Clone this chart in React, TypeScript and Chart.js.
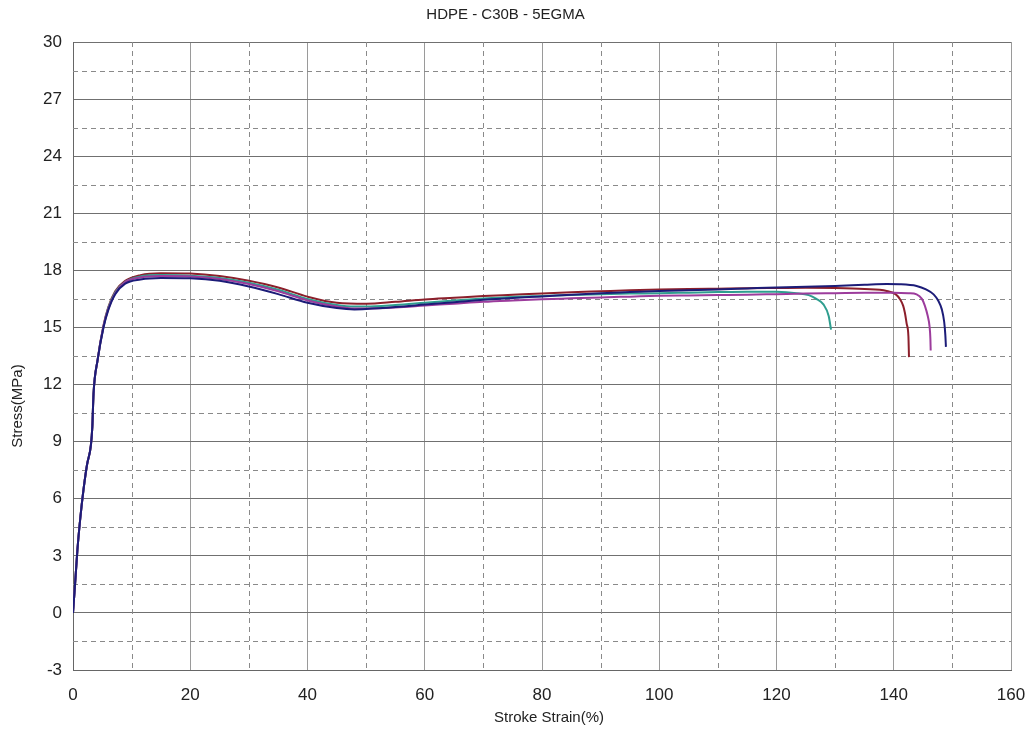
import React, { useEffect, useRef } from "react";
import { Chart, registerables } from "chart.js";

Chart.register(...registerables);

const chartTitle = "HDPE - C30B - 5EGMA";
const xTitle = "Stroke Strain(%)";
const yTitle = "Stress(MPa)";

const xTicks = [0, 20, 40, 60, 80, 100, 120, 140, 160];
const yTicks = [-3, 0, 3, 6, 9, 12, 15, 18, 21, 24, 27, 30];

// Specimen curves: strain (%) and stress (MPa)
const maroonStrain = [0, 0.35, 0.75, 1.25, 1.8, 2.4, 3.05, 3.3, 3.5, 4.2, 5.2, 6.0, 7.2, 8.9, 11.5, 15, 20, 25, 30, 35, 40, 45, 50, 55, 60, 65, 70, 75, 80, 85, 90, 95, 100, 105, 110, 115, 120, 125, 130, 135, 138.8, 140.3, 141.1, 141.6, 141.9, 142.2, 142.5, 142.6];
const maroonStress = [0, 1.5, 3.3, 5.0, 6.5, 7.8, 8.8, 9.8, 11.5, 13.3, 15.1, 16.05, 16.9, 17.45, 17.75, 17.85, 17.83, 17.7, 17.45, 17.1, 16.62, 16.3, 16.25, 16.35, 16.47, 16.56, 16.65, 16.72, 16.79, 16.85, 16.9, 16.95, 16.99, 17.02, 17.04, 17.06, 17.07, 17.08, 17.07, 17.02, 16.92, 16.75, 16.47, 16.15, 15.77, 15.2, 14.54, 13.44];

const navyStrain = [0, 0.35, 0.75, 1.25, 1.8, 2.4, 3.05, 3.3, 3.5, 4.2, 5.2, 6.0, 7.2, 8.9, 11.5, 15, 20, 25, 30, 35, 40, 45, 48, 50, 55, 60, 65, 70, 75, 80, 85, 90, 95, 100, 105, 110, 115, 120, 125, 130, 135, 138.8, 141, 143.9, 145.5, 146.8, 147.6, 148.2, 148.6, 148.8, 148.9];
const navyStress = [0, 1.5, 3.3, 5.0, 6.5, 7.8, 8.8, 9.8, 11.5, 13.3, 15.0, 15.9, 16.75, 17.3, 17.52, 17.6, 17.58, 17.45, 17.15, 16.75, 16.3, 16.02, 15.95, 15.97, 16.07, 16.2, 16.33, 16.45, 16.55, 16.63, 16.72, 16.8, 16.86, 16.92, 16.96, 17.0, 17.05, 17.1, 17.14, 17.18, 17.24, 17.28, 17.27, 17.18, 17.0, 16.74, 16.4, 15.95, 15.3, 14.6, 13.98];

const magentaStrain = [0, 0.35, 0.75, 1.25, 1.8, 2.4, 3.05, 3.3, 3.5, 4.2, 5.2, 6.0, 7.2, 8.9, 11.5, 15, 20, 25, 30, 35, 40, 45, 48, 50, 55, 60, 65, 70, 75, 80, 85, 90, 95, 100, 105, 110, 115, 120, 125, 130, 135, 140, 142.5, 143.9, 144.8, 145.3, 145.8, 146.1, 146.25, 146.3];
const magentaStress = [0, 1.5, 3.3, 5.0, 6.5, 7.8, 8.8, 9.8, 11.5, 13.3, 15.05, 15.95, 16.8, 17.38, 17.62, 17.7, 17.68, 17.55, 17.28, 16.9, 16.42, 16.1, 16.0, 16.0, 16.05, 16.15, 16.25, 16.35, 16.42, 16.48, 16.53, 16.58, 16.62, 16.66, 16.68, 16.7, 16.72, 16.75, 16.78, 16.8, 16.82, 16.83, 16.8, 16.74, 16.5, 16.15, 15.6, 15.07, 14.4, 13.79];

const tealStrain = [0, 0.35, 0.75, 1.25, 1.8, 2.4, 3.05, 3.3, 3.5, 4.2, 5.2, 6.0, 7.2, 8.9, 11.5, 15, 20, 25, 30, 35, 40, 45, 48, 50, 55, 60, 65, 70, 75, 80, 85, 90, 95, 100, 105, 110, 115, 120, 123.4, 125.5, 126.8, 128, 128.9, 129.3];
const tealStress = [0, 1.5, 3.3, 5.0, 6.5, 7.8, 8.8, 9.8, 11.5, 13.3, 15.05, 16.0, 16.85, 17.4, 17.68, 17.75, 17.72, 17.6, 17.35, 16.98, 16.5, 16.18, 16.1, 16.1, 16.18, 16.3, 16.42, 16.52, 16.6, 16.65, 16.7, 16.75, 16.78, 16.8, 16.83, 16.86, 16.88, 16.87, 16.8, 16.7, 16.5, 16.21, 15.6, 14.89];

const seriesNames = ["Specimen 1", "Specimen 2", "Specimen 3", "Specimen 4"];
const seriesColors = ["#1c1c78", "#8c1f2b", "#9c3c9c", "#2f9e8f"];

const FONT = "'Liberation Sans', Arial, sans-serif";

const toPoints = (xs: number[], ys: number[]) => xs.map((x, i) => ({ x, y: ys[i] }));

const minorGridPlugin = {
  id: "minorGrid",
  beforeDatasetsDraw(chart: any) {
    const { ctx, chartArea, scales } = chart;
    const xs = scales.x;
    const ys = scales.y;
    ctx.save();
    ctx.strokeStyle = "#8a8a8a";
    ctx.lineWidth = 1;
    ctx.setLineDash([5, 4]);
    for (let i = 0; i < xTicks.length - 1; i++) {
      const v = (xTicks[i] + xTicks[i + 1]) / 2;
      const px = Math.round(xs.getPixelForValue(v)) + 0.5;
      ctx.beginPath();
      ctx.moveTo(px, chartArea.top);
      ctx.lineTo(px, chartArea.bottom);
      ctx.stroke();
    }
    for (let i = 0; i < yTicks.length - 1; i++) {
      const v = (yTicks[i] + yTicks[i + 1]) / 2;
      const py = Math.round(ys.getPixelForValue(v)) + 0.5;
      ctx.beginPath();
      ctx.moveTo(chartArea.left, py);
      ctx.lineTo(chartArea.right, py);
      ctx.stroke();
    }
    ctx.restore();
  },
};

const axisTitlePlugin = {
  id: "axisTitles",
  afterDraw(chart: any) {
    const { ctx, chartArea } = chart;
    ctx.save();
    ctx.fillStyle = "#222";
    ctx.font = `15px ${FONT}`;
    ctx.textAlign = "center";
    ctx.textBaseline = "middle";
    const cx = (chartArea.left + chartArea.right) / 2 + 7;
    ctx.fillText(xTitle, cx, chartArea.bottom + 48);
    ctx.translate(18, (chartArea.top + chartArea.bottom) / 2 + 50);
    ctx.rotate(-Math.PI / 2);
    ctx.fillText(yTitle, 0, 0);
    ctx.restore();
  },
};

export default function App() {
  const canvasRef = useRef<HTMLCanvasElement | null>(null);

  useEffect(() => {
    if (!canvasRef.current) return;
    const datasets = [
      { data: toPoints(navyStrain, navyStress), color: seriesColors[0], name: seriesNames[0] },
      { data: toPoints(magentaStrain, magentaStress), color: seriesColors[2], name: seriesNames[2] },
      { data: toPoints(tealStrain, tealStress), color: seriesColors[3], name: seriesNames[3] },
      { data: toPoints(maroonStrain, maroonStress), color: seriesColors[1], name: seriesNames[1] },
    ].map((s) => ({
      label: s.name,
      data: s.data,
      borderColor: s.color,
      backgroundColor: s.color,
      borderWidth: 2,
      pointRadius: 0,
      fill: false,
      cubicInterpolationMode: "monotone" as const,
    }));

    const chart = new Chart(canvasRef.current, {
      type: "line",
      data: { datasets },
      plugins: [minorGridPlugin, axisTitlePlugin],
      options: {
        responsive: false,
        animation: false,
        layout: { padding: { left: 0, right: 23, top: 0, bottom: 0 } },
        plugins: {
          legend: { display: false },
          tooltip: { enabled: false },
          title: {
            display: true,
            text: chartTitle,
            color: "#222",
            font: { family: FONT, size: 15, weight: "normal" },
            padding: { top: 6, bottom: 18 },
          },
        },
        scales: {
          x: {
            type: "linear",
            min: 0,
            max: 160,
            afterBuildTicks: (scale: any) => {
              scale.ticks = xTicks.map((v) => ({ value: v }));
            },
            afterFit: (scale: any) => {
              scale.height = 63;
              scale.paddingRight = 0;
              scale.paddingLeft = 0;
            },
            ticks: {
              color: "#222",
              padding: 15,
              maxRotation: 0,
              font: { family: FONT, size: 17 },
            },
            grid: { color: "#9a9a9a", lineWidth: 1, drawTicks: false },
            border: { display: true, color: "#666", width: 1 },
          },
          y: {
            type: "linear",
            min: -3,
            max: 30,
            afterBuildTicks: (scale: any) => {
              scale.ticks = yTicks.map((v) => ({ value: v }));
            },
            afterFit: (scale: any) => {
              scale.width = 73;
            },
            ticks: {
              color: "#222",
              padding: 11,
              font: { family: FONT, size: 17 },
            },
            grid: { color: "#707070", lineWidth: 1, drawTicks: false },
            border: { display: true, color: "#666", width: 1 },
          },
        },
      },
    });
    return () => chart.destroy();
  }, []);

  return (
    <div style={{ position: "fixed", left: 0, top: 0, width: 1034, height: 733, background: "#fff" }}>
      <canvas ref={canvasRef} width={1034} height={733} />
    </div>
  );
}
